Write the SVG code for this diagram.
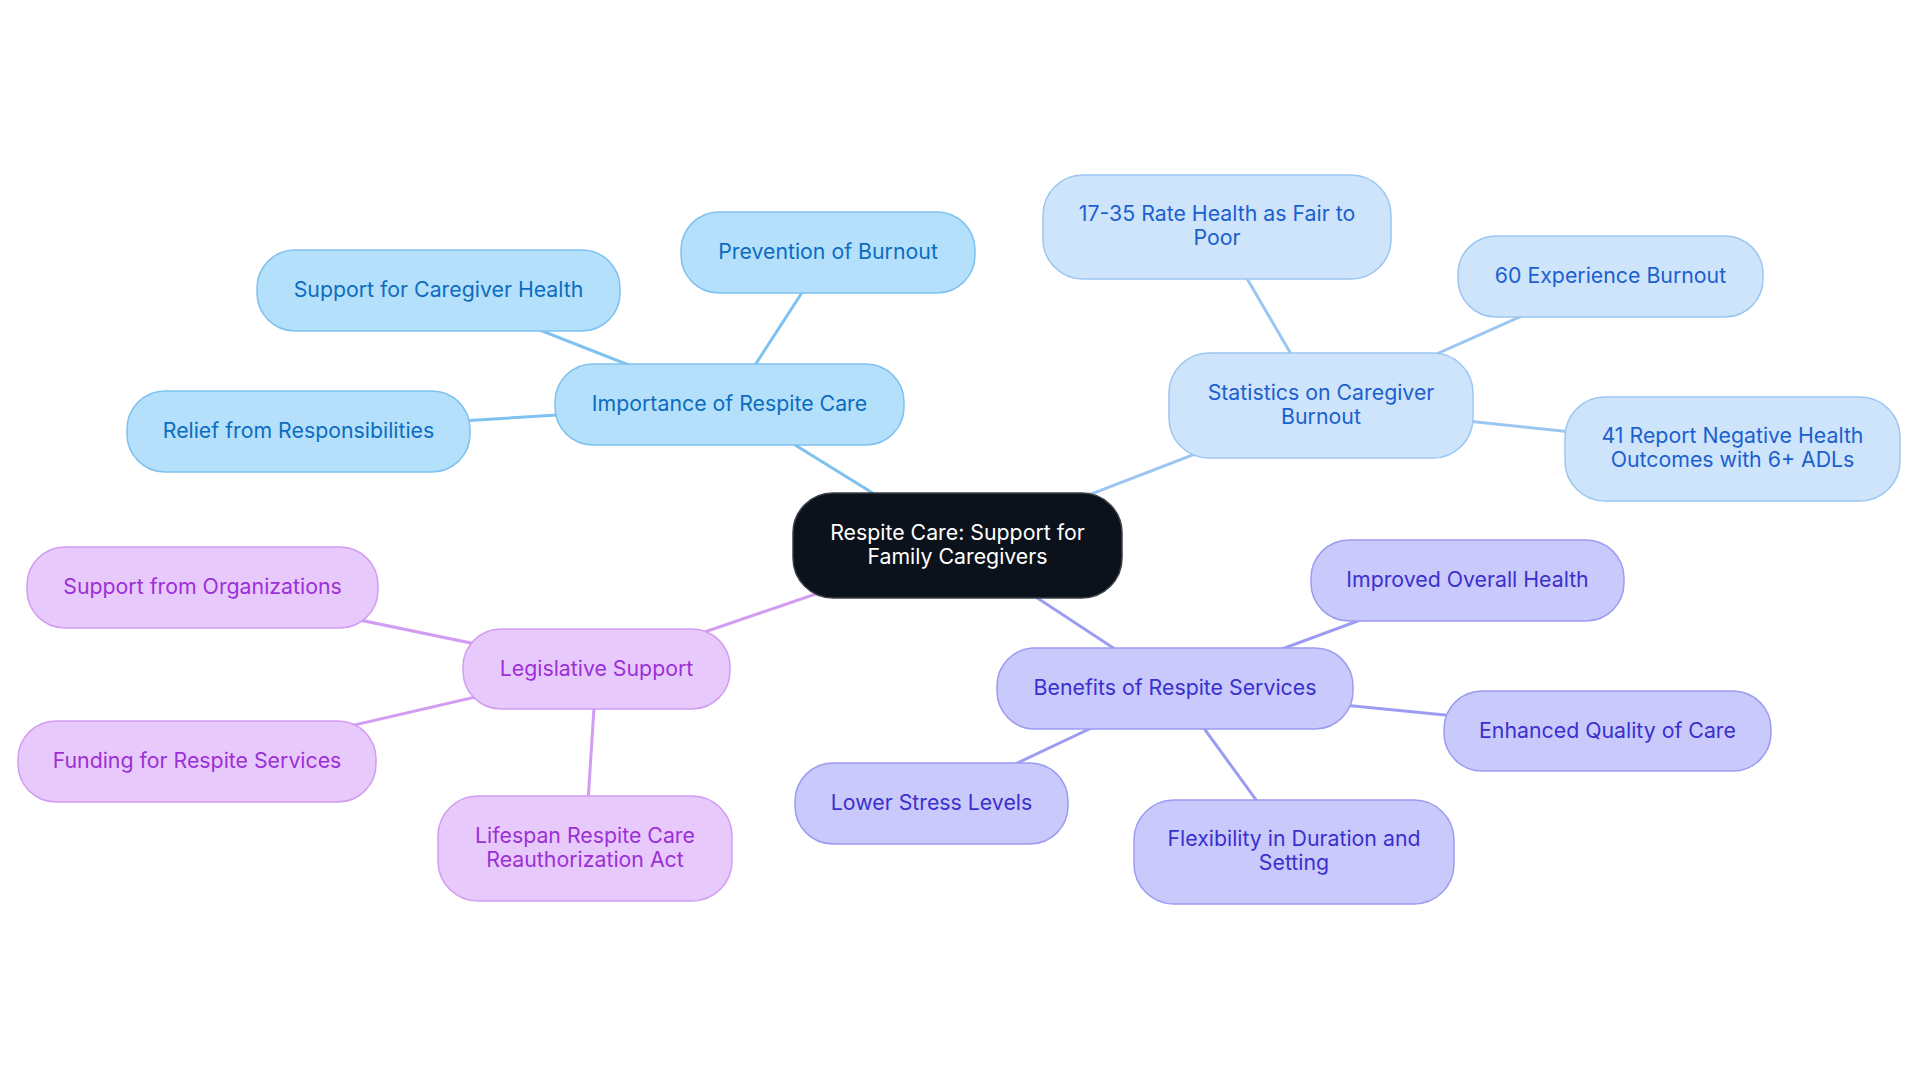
<svg xmlns="http://www.w3.org/2000/svg" width="1920" height="1083" viewBox="0 0 1920 1083">
<style>
  text { font-family: Inter, "Noto Sans", "Liberation Sans", sans-serif; font-size: 21.3px; text-anchor: middle; }
  .edge { stroke-width: 3; fill: none; stroke-linecap: round; }
  .e1 { stroke: #7fc1ef; }
  .e2 { stroke: #9cc6f2; }
  .e3 { stroke: #9c9cf2; }
  .e4 { stroke: #d29cf2; }
  .n0 rect { fill: #0c121b; stroke: #3b3f46; stroke-width: 1.5; }
  .n0 text { fill: #ffffff; }
  .n1 rect { fill: #b4e0fc; stroke: #7fc1ef; stroke-width: 1.5; }
  .n1 text { fill: #0d6cbf; }
  .n2 rect { fill: #cde4fb; stroke: #9cc6f2; stroke-width: 1.5; }
  .n2 text { fill: #1c5fcf; }
  .n3 rect { fill: #c9c9fc; stroke: #9c9cf2; stroke-width: 1.5; }
  .n3 text { fill: #3a30cc; }
  .n4 rect { fill: #e8c9fc; stroke: #d29cf2; stroke-width: 1.5; }
  .n4 text { fill: #9b30d6; }
</style>
<rect width="1920" height="1083" fill="#ffffff"/>
<g id="connectors">
  <line class="edge e1" x1="957.5" y1="545.5" x2="729.5" y2="404.5"/>
  <line class="edge e1" x1="729.5" y1="404.5" x2="438.5" y2="290.5"/>
  <line class="edge e1" x1="729.5" y1="404.5" x2="828" y2="252.5"/>
  <line class="edge e1" x1="729.5" y1="404.5" x2="298.5" y2="431"/>
  <line class="edge e2" x1="957.5" y1="545.5" x2="1321" y2="405.5"/>
  <line class="edge e2" x1="1321" y1="405.5" x2="1217" y2="227"/>
  <line class="edge e2" x1="1321" y1="405.5" x2="1610.5" y2="276.5"/>
  <line class="edge e2" x1="1321" y1="405.5" x2="1732.5" y2="449"/>
  <line class="edge e3" x1="957.5" y1="545.5" x2="1175" y2="688.5"/>
  <line class="edge e3" x1="1175" y1="688.5" x2="1467.5" y2="580.5"/>
  <line class="edge e3" x1="1175" y1="688.5" x2="1607.5" y2="731"/>
  <line class="edge e3" x1="1175" y1="688.5" x2="931.5" y2="803.5"/>
  <line class="edge e3" x1="1175" y1="688.5" x2="1294" y2="852"/>
  <line class="edge e4" x1="957.5" y1="545.5" x2="596.5" y2="669"/>
  <line class="edge e4" x1="596.5" y1="669" x2="202.5" y2="587.5"/>
  <line class="edge e4" x1="596.5" y1="669" x2="197" y2="761.5"/>
  <line class="edge e4" x1="596.5" y1="669" x2="585" y2="848.5"/>
</g>
<g id="root" class="n0">
  <rect x="793" y="493" width="329" height="105" rx="40"/>
  <text x="957.5" y="539.5">Respite Care: Support for</text>
  <text x="957.5" y="563.5">Family Caregivers</text>
</g>
<g id="importance" class="n1">
  <rect x="555" y="364" width="349" height="81" rx="38"/>
  <text x="729.5" y="411">Importance of Respite Care</text>
</g>
<g id="caregiver-health" class="n1">
  <rect x="257" y="250" width="363" height="81" rx="38"/>
  <text x="438.5" y="297">Support for Caregiver Health</text>
</g>
<g id="prevention" class="n1">
  <rect x="681" y="212" width="294" height="81" rx="38"/>
  <text x="828" y="259">Prevention of Burnout</text>
</g>
<g id="relief" class="n1">
  <rect x="127" y="391" width="343" height="81" rx="38"/>
  <text x="298.5" y="437.5">Relief from Responsibilities</text>
</g>
<g id="statistics" class="n2">
  <rect x="1169" y="353" width="304" height="105" rx="40"/>
  <text x="1321" y="399.5">Statistics on Caregiver</text>
  <text x="1321" y="423.5">Burnout</text>
</g>
<g id="rate-health" class="n2">
  <rect x="1043" y="175" width="348" height="104" rx="40"/>
  <text x="1217" y="221">17-35 Rate Health as Fair to</text>
  <text x="1217" y="245">Poor</text>
</g>
<g id="experience-burnout" class="n2">
  <rect x="1458" y="236" width="305" height="81" rx="38"/>
  <text x="1610.5" y="283">60 Experience Burnout</text>
</g>
<g id="negative-outcomes" class="n2">
  <rect x="1565" y="397" width="335" height="104" rx="40"/>
  <text x="1732.5" y="443">41 Report Negative Health</text>
  <text x="1732.5" y="467">Outcomes with 6+ ADLs</text>
</g>
<g id="benefits" class="n3">
  <rect x="997" y="648" width="356" height="81" rx="38"/>
  <text x="1175" y="695">Benefits of Respite Services</text>
</g>
<g id="improved-health" class="n3">
  <rect x="1311" y="540" width="313" height="81" rx="38"/>
  <text x="1467.5" y="587">Improved Overall Health</text>
</g>
<g id="enhanced-quality" class="n3">
  <rect x="1444" y="691" width="327" height="80" rx="38"/>
  <text x="1607.5" y="737.5">Enhanced Quality of Care</text>
</g>
<g id="lower-stress" class="n3">
  <rect x="795" y="763" width="273" height="81" rx="38"/>
  <text x="931.5" y="810">Lower Stress Levels</text>
</g>
<g id="flexibility" class="n3">
  <rect x="1134" y="800" width="320" height="104" rx="40"/>
  <text x="1294" y="846">Flexibility in Duration and</text>
  <text x="1294" y="870">Setting</text>
</g>
<g id="legislative" class="n4">
  <rect x="463" y="629" width="267" height="80" rx="38"/>
  <text x="596.5" y="675.5">Legislative Support</text>
</g>
<g id="organizations" class="n4">
  <rect x="27" y="547" width="351" height="81" rx="38"/>
  <text x="202.5" y="594">Support from Organizations</text>
</g>
<g id="funding" class="n4">
  <rect x="18" y="721" width="358" height="81" rx="38"/>
  <text x="197" y="768">Funding for Respite Services</text>
</g>
<g id="lifespan" class="n4">
  <rect x="438" y="796" width="294" height="105" rx="40"/>
  <text x="585" y="842.5">Lifespan Respite Care</text>
  <text x="585" y="866.5">Reauthorization Act</text>
</g>
</svg>
